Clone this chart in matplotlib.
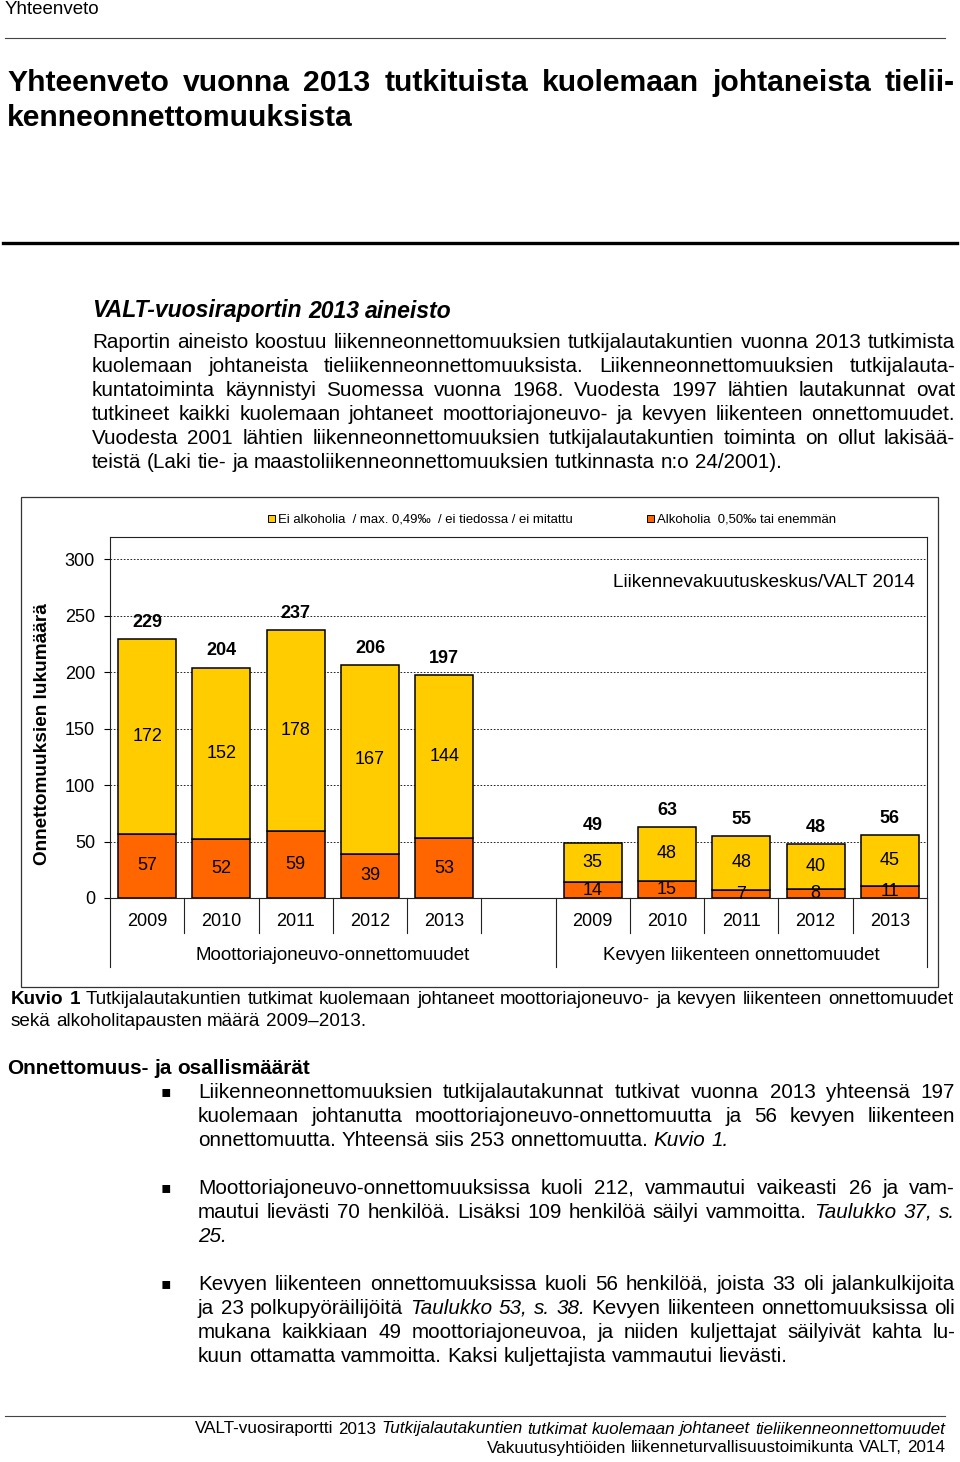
import matplotlib
matplotlib.use('Agg')
import matplotlib.pyplot as plt
from matplotlib import font_manager
from matplotlib.patches import Rectangle
from matplotlib.lines import Line2D
import numpy as np

# chart data
years = ['2009', '2010', '2011', '2012', '2013']
groups = ['Moottoriajoneuvo-onnettomuudet', 'Kevyen liikenteen onnettomuudet']
motor_sober = [172, 152, 178, 167, 144]
motor_alcohol = [57, 52, 59, 39, 53]
light_sober = [35, 48, 48, 40, 45]
light_alcohol = [14, 15, 7, 8, 11]
series_names = ['Ei alkoholia  / max. 0,49‰  / ei tiedossa / ei mitattu',
                'Alkoholia  0,50‰ tai enemmän']
yticks = [0, 50, 100, 150, 200, 250, 300]
ylabel = 'Onnettomuuksien lukumäärä'
source = 'Liikennevakuutuskeskus/VALT 2014'

# page text  (* = italic word, # = bold word)
header = 'Yhteenveto'
title_lines = ['Yhteenveto vuonna 2013 tutkituista kuolemaan johtaneista tielii-',
               'kenneonnettomuuksista']
section = 'VALT-vuosiraportin 2013 aineisto'
intro_lines = [
    'Raportin aineisto koostuu liikenneonnettomuuksien tutkijalautakuntien vuonna 2013 tutkimista',
    'kuolemaan johtaneista tieliikenneonnettomuuksista. Liikenneonnettomuuksien tutkijalauta-',
    'kuntatoiminta käynnistyi Suomessa vuonna 1968. Vuodesta 1997 lähtien lautakunnat ovat',
    'tutkineet kaikki kuolemaan johtaneet moottoriajoneuvo- ja kevyen liikenteen onnettomuudet.',
    'Vuodesta 2001 lähtien liikenneonnettomuuksien tutkijalautakuntien toiminta on ollut lakisää-',
    'teistä (Laki tie- ja maastoliikenneonnettomuuksien tutkinnasta n:o 24/2001).',
]
caption_lines = [
    '#Kuvio #1 Tutkijalautakuntien tutkimat kuolemaan johtaneet moottoriajoneuvo- ja kevyen liikenteen onnettomuudet',
    'sekä alkoholitapausten määrä 2009–2013.',
]
heading2 = 'Onnettomuus- ja osallismäärät'
bullets = [
    ['Liikenneonnettomuuksien tutkijalautakunnat tutkivat vuonna 2013 yhteensä 197',
     'kuolemaan johtanutta moottoriajoneuvo-onnettomuutta ja 56 kevyen liikenteen',
     'onnettomuutta. Yhteensä siis 253 onnettomuutta. *Kuvio *1.'],
    ['Moottoriajoneuvo-onnettomuuksissa kuoli 212, vammautui vaikeasti 26 ja vam-',
     'mautui lievästi 70 henkilöä. Lisäksi 109 henkilöä säilyi vammoitta. *Taulukko *37, *s.',
     '*25.'],
    ['Kevyen liikenteen onnettomuuksissa kuoli 56 henkilöä, joista 33 oli jalankulkijoita',
     'ja 23 polkupyöräilijöitä *Taulukko *53, *s. *38. Kevyen liikenteen onnettomuuksissa oli',
     'mukana kaikkiaan 49 moottoriajoneuvoa, ja niiden kuljettajat säilyivät kahta lu-',
     'kuun ottamatta vammoitta. Kaksi kuljettajista vammautui lievästi.'],
]
footer_lines = [
    'VALT-vuosiraportti 2013 *Tutkijalautakuntien *tutkimat *kuolemaan *johtaneet *tieliikenneonnettomuudet',
    'Vakuutusyhtiöiden liikenneturvallisuustoimikunta VALT, 2014',
]

YELLOW = '#FFCC00'
ORANGE = '#FF6600'
SANS = 'Liberation Sans'
names = {f.name for f in font_manager.fontManager.ttflist}
NARROW = 'Liberation Sans Narrow' if 'Liberation Sans Narrow' in names else SANS

W, H = 960, 1462
fig = plt.figure(figsize=(W / 100, H / 100), dpi=100)
r = fig.canvas.get_renderer()


def px(x, y):
    return x / W, 1 - y / H


def width(s, **kw):
    t = fig.text(0, 0, s, **kw)
    w = t.get_window_extent(r).width
    t.remove()
    return w


def fit(s, target, family=SANS, **kw):
    return 10 * target / width(s, fontsize=10, family=family, **kw)


def style(word, size, family, extra):
    kw = dict(fontsize=size, family=family, **extra)
    while len(word) > 1 and word[0] in '*#':
        if word[0] == '*':
            kw['style'] = 'italic'
        else:
            kw['weight'] = 'bold'
        word = word[1:]
    return word, kw


def put_line(text, x0, y, size, x1=None, family=SANS, align='left', **extra):
    words = [style(w, size, family, extra) for w in text.split()]
    ws = [width(w, **kw) for w, kw in words]
    kw0 = dict(fontsize=size, family=family, **extra)
    gap = width('a a', **kw0) - width('aa', **kw0)
    if align == 'justify' and len(words) > 1:
        gap = (x1 - x0 - sum(ws)) / (len(words) - 1)
    total = sum(ws) + gap * (len(words) - 1)
    x = x1 - total if align == 'right' else x0
    for (w, kw), wd in zip(words, ws):
        fig.text(*px(x, y), w, va='center', ha='left', **kw)
        x += wd + gap


def hline(x0, x1, y, lw, color):
    fig.add_artist(Line2D([x0 / W, x1 / W], [1 - y / H] * 2, lw=lw, color=color))


# ---- page header and text ----
put_line(header, 5, 10, fit(header, 95, family=NARROW), family=NARROW)
hline(5, 945, 38, 0.8, '#444444')

tsize = fit(title_lines[1], 346, family=NARROW, weight='bold')
put_line(title_lines[0], 7, 83, tsize, 955, NARROW, 'justify', weight='bold')
put_line(title_lines[1], 7, 118, tsize, family=NARROW, weight='bold')
hline(3, 957, 243, 2.4, 'black')

put_line(section, 92, 311, fit(section, 361, weight='bold', style='italic'),
         weight='bold', style='italic')
bsize = fit(intro_lines[-1], 694)
for i, ln in enumerate(intro_lines):
    last = i == len(intro_lines) - 1
    put_line(ln, 92, 342 + 24 * i, bsize, 955, align='left' if last else 'justify')

csize = fit(caption_lines[1], 356)
put_line(caption_lines[0], 11, 1000, csize, 953, align='justify')
put_line(caption_lines[1], 11, 1022, csize)

put_line(heading2, 7, 1068, fit(heading2, 303, weight='bold'), weight='bold')
y = 1092
for para in bullets:
    fig.text(*px(161, y), '▪', family='DejaVu Sans', fontsize=bsize * 0.75,
             va='center', ha='left')
    for i, ln in enumerate(para):
        last = i == len(para) - 1
        put_line(ln, 198, y + 24 * i, bsize, 955, align='left' if last else 'justify')
    y += 96

hline(5, 945, 1416, 0.8, '#444444')
fsize = fit(footer_lines[1], 459, family=NARROW)
put_line(footer_lines[0], 0, 1429, fsize, 945, NARROW, 'right')
put_line(footer_lines[1], 0, 1448, fsize, 945, NARROW, 'right')

# ---- chart ----
fig.add_artist(Rectangle(px(20.5, 987), 917.5 / W, 490 / H, fill=False,
                         lw=0.9, edgecolor='#333333', transform=fig.transFigure))

ax = fig.add_axes([110 / W, 1 - 898 / H, 817 / W, 361 / H])
pos_motor = np.arange(5)
pos_light = np.arange(5) + 6
fs = 13
for xs, sober, alc in [(pos_motor, motor_sober, motor_alcohol),
                       (pos_light, light_sober, light_alcohol)]:
    b1 = ax.bar(xs, alc, 0.78, color=ORANGE, edgecolor='black', lw=1.1, zorder=3)
    b2 = ax.bar(xs, sober, 0.78, bottom=alc, color=YELLOW, edgecolor='black', lw=1.1, zorder=3)
    ax.bar_label(b1, label_type='center', fontsize=fs, family=SANS, zorder=4)
    ax.bar_label(b2, label_type='center', fontsize=fs, family=SANS, zorder=4)
    totals = np.add(sober, alc)
    for x, t in zip(xs, totals):
        ax.annotate(str(t), (x, t), xytext=(0, 12), textcoords='offset points',
                    ha='center', va='center', fontsize=fs, weight='bold', family=SANS)

ax.set_xlim(-0.5, 10.5)
ax.set_ylim(0, 319.5)
ax.set_yticks(yticks)
ax.set_yticklabels([str(v) for v in yticks], family=SANS)
ax.tick_params(axis='y', direction='out', length=4.3, width=0.8, labelsize=fs, pad=6.5)
ax.set_xticks([])
ax.yaxis.grid(True, linestyle=(0, (2, 2)), color='black', lw=0.6, zorder=1)
for s in ax.spines.values():
    s.set_linewidth(0.8)
    s.set_color('#222222')

# category axis: year labels, group labels and dividers
tr = ax.get_xaxis_transform()
h_ax = 361.0
for xs in (pos_motor, pos_light):
    for x, yr in zip(xs, years):
        ax.text(x, -24 / h_ax, yr, transform=tr, ha='center', va='center',
                fontsize=fs, family=SANS)
gsize = fit(groups[0], 277)
ax.text(np.mean([pos_motor[0] - 0.5, pos_light[0] - 0.5]), -58 / h_ax, groups[0],
        transform=tr, ha='center', va='center', fontsize=gsize, family=SANS)
ax.text(np.mean([pos_light[0] - 0.5, pos_light[-1] + 0.5]), -58 / h_ax, groups[1],
        transform=tr, ha='center', va='center', fontsize=gsize, family=SANS)
short = list(pos_motor[:-1] + 0.5) + [pos_motor[-1] + 0.5] + list(pos_light[:-1] + 0.5)
long_ = [pos_motor[0] - 0.5, pos_light[0] - 0.5, pos_light[-1] + 0.5]
for x in short:
    ax.add_line(Line2D([x, x], [0, -35 / h_ax], transform=tr, color='#222222',
                       lw=0.8, clip_on=False))
for x in long_:
    ax.add_line(Line2D([x, x], [0, -69 / h_ax], transform=tr, color='#222222',
                       lw=0.8, clip_on=False))

fig.text(*px(43, 734), ylabel, rotation=90, ha='center', va='center',
         fontsize=fit(ylabel, 263, weight='bold'), weight='bold', family=SANS)
ax.text(0.985, 0.873, source, transform=ax.transAxes, ha='right', va='center',
        fontsize=fit(source, 305), family=SANS)

# legend
lsize = fit(series_names[0], 294, family=NARROW)
for (lx, name, col) in [(272, series_names[0], YELLOW), (651, series_names[1], ORANGE)]:
    fig.add_artist(Rectangle(px(lx - 4, 522), 7 / W, 7 / H, facecolor=col,
                             edgecolor='black', lw=0.7, transform=fig.transFigure))
    fig.text(*px(lx + 6, 519), name, ha='left', va='center', fontsize=lsize, family=NARROW)

fig.savefig('out.png', dpi=100)
